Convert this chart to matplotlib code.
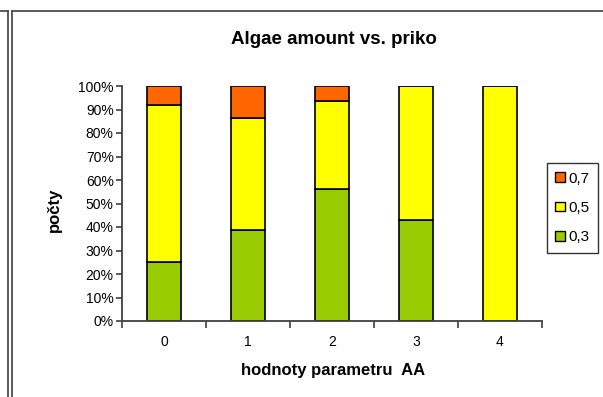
import numpy as np
import matplotlib.pyplot as plt
from matplotlib.lines import Line2D
from matplotlib.patches import Patch

plt.rcParams['font.family'] = ['Liberation Sans', 'DejaVu Sans']

# data (percent of each bar)
categories = ['0', '1', '2', '3', '4']
share_03 = [25.2, 38.9, 56.0, 42.8, 0.0]
share_05 = [66.8, 47.6, 37.6, 57.2, 100.0]
share_07 = [8.0, 13.5, 6.4, 0.0, 0.0]
series_labels = ['0,3', '0,5', '0,7']
colors = ['#99CC00', '#FFFF00', '#FF6600']

fig = plt.figure(figsize=(6.03, 3.97), dpi=100)
ax = fig.add_axes([122 / 603, 76 / 397, 420 / 603, 235 / 397])

x = np.arange(len(categories))
w = 0.405
b1 = np.array(share_03)
b2 = b1 + np.array(share_05)
ax.bar(x, share_03, w, color=colors[0], edgecolor='black', linewidth=1.2)
ax.bar(x, share_05, w, bottom=b1, color=colors[1], edgecolor='black', linewidth=1.2)
ax.bar(x, share_07, w, bottom=b2, color=colors[2], edgecolor='black', linewidth=1.2)

ax.set_xlim(-0.5, len(categories) - 0.5)
ax.set_ylim(0, 100)
ax.set_yticks(np.arange(0, 101, 10))
ax.set_yticklabels([f'{v}%' for v in range(0, 101, 10)], fontsize=10)
ax.set_xticks(x)
ax.set_xticklabels(categories, fontsize=10)
ax.set_xticks(np.arange(-0.5, len(categories), 1), minor=True)
ax.tick_params(axis='x', which='major', length=0, pad=10)
ax.tick_params(axis='x', which='minor', length=5, width=1.2, color='#404040')
ax.tick_params(axis='y', length=4, width=1.2, color='#404040', pad=2)

for s in ['top', 'right']:
    ax.spines[s].set_visible(False)
for s in ['left', 'bottom']:
    ax.spines[s].set_color('#404040')
    ax.spines[s].set_linewidth(1.3)

fig.text(334 / 603, 1 - 40 / 397, 'Algae amount vs. priko', ha='center', va='center',
         fontsize=13.5, fontweight='bold')
fig.text(333 / 603, 1 - 371 / 397, 'hodnoty parametru  AA', ha='center', va='center',
         fontsize=12, fontweight='bold')
fig.text(54 / 603, 1 - 210 / 397, 'počty', ha='center', va='center', rotation=90,
         fontsize=12, fontweight='bold')

handles = [Patch(facecolor=colors[i], edgecolor='black', linewidth=1.0) for i in (2, 1, 0)]
leg = fig.legend(handles, [series_labels[i] for i in (2, 1, 0)],
                 loc='center left', bbox_to_anchor=(547 / 603, 1 - 208 / 397),
                 fontsize=11, frameon=True, fancybox=False, edgecolor='black',
                 handlelength=0.6, handleheight=0.6, handletextpad=0.25,
                 labelspacing=1.0, borderpad=0.55, borderaxespad=0)
leg.get_frame().set_linewidth(1.0)

# outer frame lines
lc = '#404040'
fig.add_artist(Line2D([0, 8 / 603], [1 - 11 / 397] * 2, color=lc, lw=1.2, transform=fig.transFigure))
fig.add_artist(Line2D([8 / 603] * 2, [0, 1 - 11 / 397], color=lc, lw=1.2, transform=fig.transFigure))
fig.add_artist(Line2D([12 / 603] * 2, [0, 1 - 11 / 397], color=lc, lw=1.2, transform=fig.transFigure))
fig.add_artist(Line2D([12 / 603, 1], [1 - 11 / 397] * 2, color=lc, lw=1.2, transform=fig.transFigure))

fig.savefig('out.png', dpi=100)
